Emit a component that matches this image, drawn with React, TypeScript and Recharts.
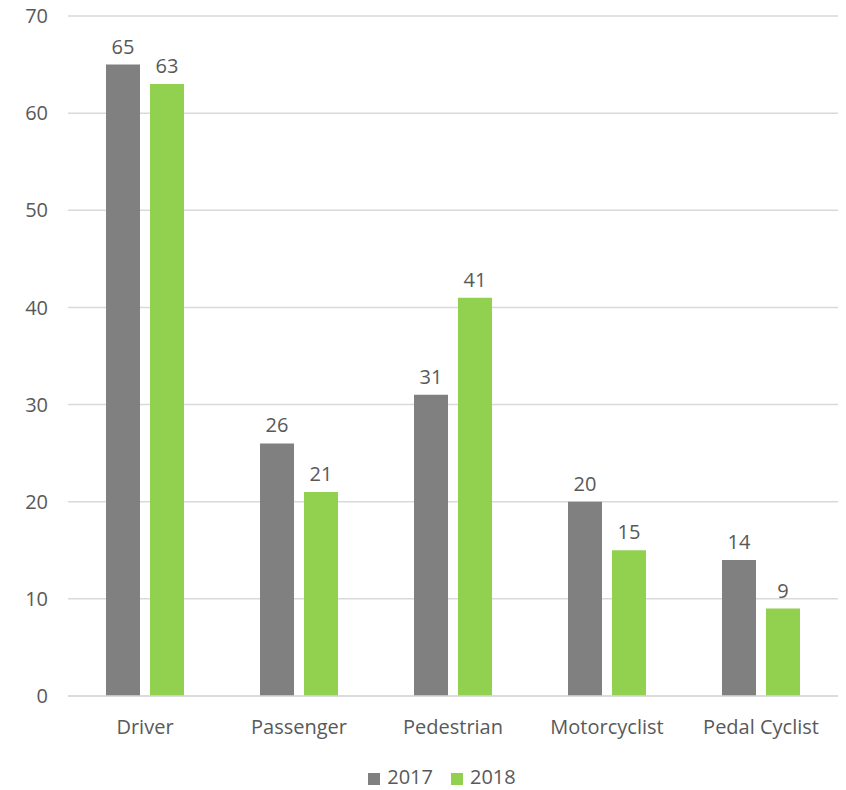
import React from 'react';
import { BarChart, Bar, XAxis, YAxis, CartesianGrid, Legend, LabelList } from 'recharts';

const categories = ['Driver', 'Passenger', 'Pedestrian', 'Motorcyclist', 'Pedal Cyclist'];
const values2017 = [65, 26, 31, 20, 14];
const values2018 = [63, 21, 41, 15, 9];
const yTicks = [0, 10, 20, 30, 40, 50, 60, 70];

const data = categories.map((name, i) => ({ name, y2017: values2017[i], y2018: values2018[i] }));

const FONT = '"Open Sans", sans-serif';
const TEXT = '#595959';
const SIZE = 20;

const App: React.FC = () => {
  return (
    <div style={{ fontFamily: FONT, marginTop: -8 }}>
      <BarChart
        width={838}
        height={790}
        data={data}
        margin={{ top: 16, right: 8, bottom: 0, left: 0 }}
        barCategoryGap={38}
        barGap={10}
      >
        <CartesianGrid vertical={false} stroke="#d9d9d9" strokeWidth={1.5} />
        <XAxis
          dataKey="name"
          axisLine={{ stroke: '#d9d9d9', strokeWidth: 1.5 }}
          tickLine={false}
          tick={{ fill: TEXT, fontSize: SIZE, fontFamily: FONT }}
          tickMargin={18}
          height={67}
        />
        <YAxis
          domain={[0, 70]}
          ticks={yTicks}
          axisLine={false}
          tickLine={false}
          tick={{ fill: TEXT, fontSize: SIZE, fontFamily: FONT }}
          tickMargin={14}
          width={60}
        />
        <Legend
          verticalAlign="bottom"
          iconType="square"
          iconSize={12}
          wrapperStyle={{ fontSize: SIZE, fontFamily: FONT, color: TEXT, bottom: 0, paddingLeft: 56, boxSizing: 'border-box' }}
          formatter={(v: string) => <span style={{ color: TEXT, marginLeft: 3, marginRight: 8 }}>{v}</span>}
        />
        <Bar dataKey="y2017" name="2017" fill="#808080" isAnimationActive={false}>
          <LabelList dataKey="y2017" position="top" offset={11} fill={TEXT} fontSize={SIZE} fontFamily={FONT} />
        </Bar>
        <Bar dataKey="y2018" name="2018" fill="#92d050" isAnimationActive={false}>
          <LabelList dataKey="y2018" position="top" offset={11} fill={TEXT} fontSize={SIZE} fontFamily={FONT} />
        </Bar>
      </BarChart>
    </div>
  );
};

export default App;
